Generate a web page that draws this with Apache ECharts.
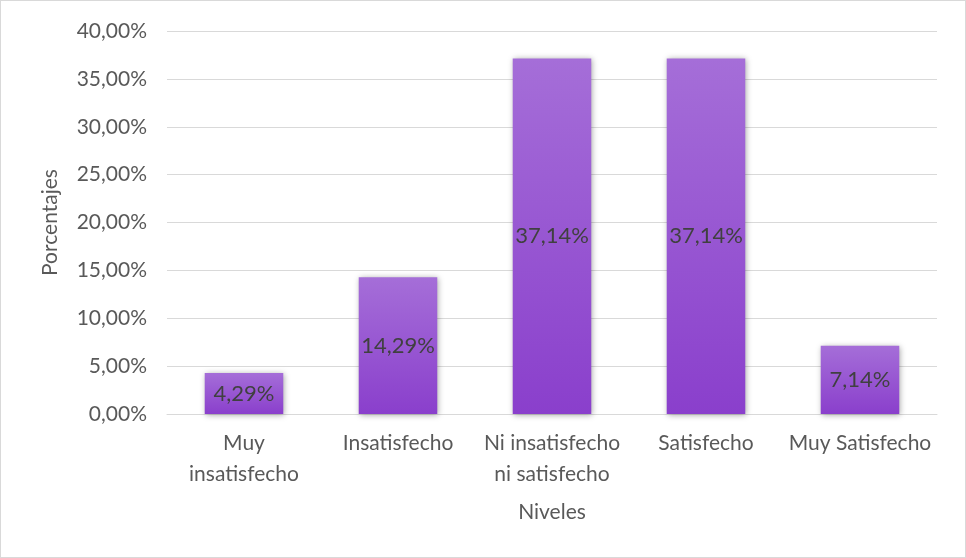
<!DOCTYPE html>
<html><head><meta charset="utf-8">
<script src="https://cdn.jsdelivr.net/npm/echarts@6/dist/echarts.min.js"></script>
<style>html,body{margin:0;padding:0;background:#fff}#c{width:966px;height:558px;box-sizing:border-box;border:1px solid #d9d9d9}</style>
</head><body><div id="c"></div>
<script>
const categories = ['Muy\ninsatisfecho', 'Insatisfecho', 'Ni insatisfecho\nni satisfecho', 'Satisfecho', 'Muy Satisfecho'];
const values = [4.29, 14.29, 37.14, 37.14, 7.14];
const yTicks = { min: 0, max: 40, interval: 5 };
const xName = 'Niveles';
const yName = 'Porcentajes';

const fmt = v => v.toFixed(2).replace('.', ',') + '%';
const font = 'Lato, "Open Sans", sans-serif';
const chart = echarts.init(document.getElementById('c'));
chart.setOption({
  animation: false,
  grid: { left: 166, right: 28, top: 30, bottom: 143 },
  xAxis: {
    type: 'category', data: categories,
    name: xName, nameLocation: 'middle', nameGap: 88,
    nameTextStyle: { color: '#595959', fontSize: 21, fontFamily: font },
    axisLine: { lineStyle: { color: '#d9d9d9' } },
    axisTick: { show: false },
    axisLabel: { color: '#595959', fontSize: 21, fontFamily: font, lineHeight: 31, margin: 14, interval: 0 }
  },
  yAxis: {
    type: 'value', min: yTicks.min, max: yTicks.max, interval: yTicks.interval,
    name: yName, nameLocation: 'middle', nameGap: 106, nameRotate: 90,
    nameTextStyle: { color: '#595959', fontSize: 21, fontFamily: font },
    axisLine: { show: false }, axisTick: { show: false },
    splitLine: { lineStyle: { color: '#d9d9d9', width: 1 } },
    axisLabel: { color: '#595959', fontSize: 21, fontFamily: font, margin: 20, formatter: v => fmt(v) }
  },
  series: [{
    type: 'bar', data: values, barWidth: '51%',
    itemStyle: {
      color: new echarts.graphic.LinearGradient(0, 0, 0, 1, [
        { offset: 0, color: '#a56ed8' }, { offset: 1, color: '#8a3fcc' }
      ]),
      shadowBlur: 6, shadowColor: 'rgba(0,0,0,0.35)', shadowOffsetX: 1, shadowOffsetY: 1
    },
    label: { show: true, position: 'inside', color: '#404040', fontSize: 22, fontFamily: font, formatter: p => fmt(p.value) }
  }]
});
</script></body></html>
